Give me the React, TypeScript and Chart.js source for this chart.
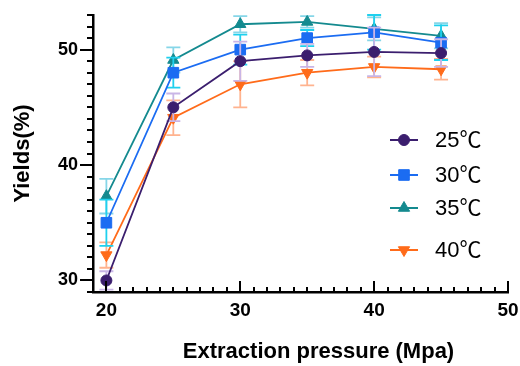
import React, { useEffect, useRef } from "react";
import { Chart, registerables } from "chart.js";
import { drawPoint } from "chart.js/helpers";

Chart.register(...registerables);

const pressures = [20, 25, 30, 35, 40, 45];
const seriesLabels = ["25℃", "30℃", "35℃", "40℃"];
const y25 = [30, 45, 49, 49.5, 49.8, 49.7];
const e25 = [0.8, 1.2, 1.7, 1.0, 2.1, 1.2];
const y30 = [35, 48, 50, 51, 51.5, 50.6];
const e30 = [2.0, 1.3, 1.3, 0.7, 1.5, 1.5];
const y35 = [37.3, 49.1, 52.2, 52.4, 51.8, 51.2];
const e35 = [1.5, 1.1, 0.7, 0.5, 1.0, 1.1];
const y40 = [32.2, 44.1, 47.0, 48.0, 48.5, 48.3];
const e40 = [1.1, 1.5, 2.0, 1.1, 0.9, 0.9];

const xTitle = "Extraction pressure (Mpa)";
const yTitle = "Yields(%)";

const lineColors = ["#3b1e6e", "#1b6cf2", "#148a8f", "#ff6b1a"];
const errColors = ["#c9b5e6", "#1fd0ee", "#86d6e8", "#ffb38f"];
const pointStyles = ["circle", "rect", "triangle", "triangle"];
const pointRadii = [5.5, 7.5, 6.5, 6.5];
const pointRotations = [0, 0, 0, 180];

const values = [y25, y30, y35, y40];
const errors = [e25, e30, e35, e40];

const FONT = "'Liberation Sans', Arial, Helvetica, sans-serif";

const errorBarPlugin = {
  id: "errorBars",
  beforeDatasetDraw(chart: any, args: any) {
    const i = args.index;
    const ds = chart.data.datasets[i];
    const err = ds.errors as number[];
    if (!err) return;
    const xs = chart.scales.x;
    const ys = chart.scales.y;
    const ctx = chart.ctx;
    ctx.save();
    ctx.strokeStyle = ds.errorColor;
    ctx.lineWidth = 1.8;
    const cap = 7;
    ds.data.forEach((p: any, j: number) => {
      const px = xs.getPixelForValue(p.x);
      const top = ys.getPixelForValue(p.y + err[j]);
      const bot = ys.getPixelForValue(p.y - err[j]);
      ctx.beginPath();
      ctx.moveTo(px, top);
      ctx.lineTo(px, bot);
      ctx.moveTo(px - cap, top);
      ctx.lineTo(px + cap, top);
      ctx.moveTo(px - cap, bot);
      ctx.lineTo(px + cap, bot);
      ctx.stroke();
    });
    ctx.restore();
  },
};

const tickPlugin = {
  id: "customTicks",
  afterDraw(chart: any, _args: any, opts: any) {
    const ctx = chart.ctx;
    const xs = chart.scales.x;
    const ys = chart.scales.y;
    const { left, bottom } = chart.chartArea;
    ctx.save();
    ctx.strokeStyle = "#000";
    ctx.lineWidth = 2;
    ctx.beginPath();
    for (let v = ys.min; v <= ys.max; v += 1) {
      const py = Math.round(ys.getPixelForValue(v));
      const len = v % 10 === 0 ? 13 : 6;
      ctx.moveTo(left - len, py);
      ctx.lineTo(left, py);
    }
    for (let v = xs.min + 1; v <= xs.max; v += 1) {
      const px = Math.round(xs.getPixelForValue(v));
      const len = v % 10 === 0 ? 11 : 5;
      ctx.moveTo(px, bottom);
      ctx.lineTo(px, bottom - len);
    }
    ctx.stroke();
    // x axis title
    ctx.fillStyle = "#000";
    ctx.font = `bold 22px ${FONT}`;
    ctx.textAlign = "center";
    ctx.textBaseline = "middle";
    ctx.fillText(xTitle, (xs.left + xs.right) / 2 + opts.xTitleShift, xs.bottom - opts.xTitleFromBottom);
    ctx.restore();
  },
};

const legendPlugin = {
  id: "customLegend",
  afterDraw(chart: any, _args: any, opts: any) {
    const ctx = chart.ctx;
    ctx.save();
    chart.data.datasets.forEach((ds: any, i: number) => {
      const cy = opts.rows[i];
      const cx = opts.x;
      ctx.strokeStyle = ds.borderColor;
      ctx.lineWidth = 2;
      ctx.beginPath();
      ctx.moveTo(cx - 14, cy);
      ctx.lineTo(cx + 14, cy);
      ctx.stroke();
      ctx.fillStyle = ds.pointBackgroundColor;
      ctx.strokeStyle = ds.pointBorderColor;
      ctx.lineWidth = 1;
      drawPoint(
        ctx,
        {
          pointStyle: ds.pointStyle,
          radius: ds.pointRadius,
          rotation: ds.pointRotation,
          borderWidth: 1,
        } as any,
        cx,
        cy
      );
      ctx.fillStyle = "#000";
      ctx.font = `22px ${FONT}, 'Noto Sans CJK SC'`;
      ctx.textAlign = "left";
      ctx.textBaseline = "middle";
      ctx.fillText(ds.label, cx + 31, cy + 1);
    });
    ctx.restore();
  },
};

export default function App() {
  const ref = useRef<HTMLCanvasElement | null>(null);
  useEffect(() => {
    document.body.style.margin = "0";
    const datasets = seriesLabels.map((label, i) => ({
      label,
      data: pressures.map((x, j) => ({ x, y: values[i][j] })),
      errors: errors[i],
      errorColor: errColors[i],
      borderColor: lineColors[i],
      backgroundColor: lineColors[i],
      pointBackgroundColor: lineColors[i],
      pointBorderColor: lineColors[i],
      pointStyle: pointStyles[i],
      pointRadius: pointRadii[i],
      pointRotation: pointRotations[i],
      pointBorderWidth: 1,
      borderWidth: 1.8,
      tension: 0,
      clip: false,
    }));
    const chart = new Chart(ref.current as HTMLCanvasElement, {
      type: "line",
      data: { datasets } as any,
      plugins: [errorBarPlugin, tickPlugin, legendPlugin],
      options: {
        animation: false,
        responsive: true,
        maintainAspectRatio: false,
        layout: { padding: { top: 15, right: 12, left: 0, bottom: 0 } },
        plugins: {
          legend: { display: false },
          tooltip: { enabled: false },
          customLegend: { x: 404, rows: [140, 175, 208, 250] },
          customTicks: { xTitleShift: 18, xTitleFromBottom: 14 },
        } as any,
        scales: {
          x: {
            type: "linear",
            min: 19,
            max: 50,
            grid: { display: false, drawTicks: false },
            border: { display: true, color: "#000", width: 2.5 },
            afterFit(scale: any) {
              scale.height = 74;
              scale.paddingLeft = 0;
              scale.paddingRight = 0;
            },
            ticks: {
              stepSize: 1,
              autoSkip: false,
              maxRotation: 0,
              padding: 7,
              color: "#000",
              font: { family: FONT, size: 19, weight: "bold" },
              callback: (v: any) => (v % 10 === 0 ? String(v) : ""),
            },
            title: { display: false },
          },
          y: {
            type: "linear",
            min: 29,
            max: 53,
            grid: { display: false, drawTicks: false },
            border: { display: true, color: "#000", width: 2.5 },
            afterFit(scale: any) {
              scale.width = 93;
              scale.paddingTop = 0;
              scale.paddingBottom = 0;
            },
            ticks: {
              stepSize: 1,
              autoSkip: false,
              padding: 15,
              color: "#000",
              font: { family: FONT, size: 18, weight: "bold" },
              callback: (v: any) => (v % 10 === 0 ? String(v) : ""),
            },
            title: {
              display: true,
              text: yTitle,
              color: "#000",
              font: { family: FONT, size: 22, weight: "bold" },
              padding: { top: 10, bottom: 0 },
            },
          },
        },
      } as any,
    });
    return () => chart.destroy();
  }, []);
  return (
    <div style={{ position: "relative", width: 520, height: 366 }}>
      <canvas ref={ref} />
    </div>
  );
}
